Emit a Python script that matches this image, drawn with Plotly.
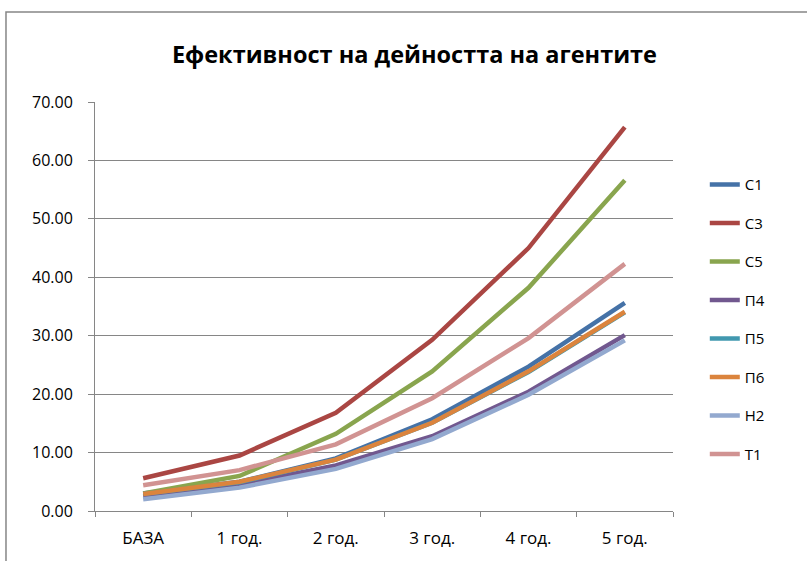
import plotly.graph_objects as go

categories = ["БАЗА", "1 год.", "2 год.", "3 год.", "4 год.", "5 год."]

series_names = ["С1", "С3", "С5", "П4", "П5", "П6", "Н2", "Т1"]
c1 = [3.0, 5.0, 9.0, 15.7, 24.7, 35.6]
c3 = [5.6, 9.5, 16.8, 29.3, 45.0, 65.7]
c5 = [3.0, 6.0, 13.2, 23.9, 38.2, 56.6]
p4 = [2.5, 4.5, 7.8, 12.8, 20.4, 30.1]
p5 = [2.9, 4.9, 8.8, 15.1, 23.8, 34.0]
p6 = [2.9, 5.0, 8.8, 15.1, 23.9, 34.1]
h2 = [2.0, 4.0, 7.2, 12.3, 19.9, 29.2]
t1 = [4.4, 7.0, 11.4, 19.3, 29.6, 42.3]
series_values = [c1, c3, c5, p4, p5, p6, h2, t1]

colors = ["#4572A7", "#AA4643", "#89A54E", "#71588F",
          "#4198AF", "#DB843D", "#93A9CF", "#D19392"]

y_ticks = [0, 10, 20, 30, 40, 50, 60, 70]
y_tick_labels = [f"{v:.2f}" for v in y_ticks]

FONT = "'Open Sans', 'Noto Sans', sans-serif"
GRID = "#868686"

fig = go.Figure()
for name, vals, col in zip(series_names, series_values, colors):
    fig.add_trace(go.Scatter(
        x=categories, y=vals, name=name, mode="lines",
        line=dict(color=col, width=4.5),
        legendgroup=name,
    ))

fig.update_layout(
    width=807, height=561,
    margin=dict(l=95, r=134, t=102, b=50),
    paper_bgcolor="white", plot_bgcolor="white",
    font=dict(family=FONT, size=15, color="#000000"),
    title=dict(text="<b>Ефективност на дейността на агентите</b>",
               x=0.5136, xanchor="center", y=0.902, yanchor="middle",
               font=dict(family=FONT, size=23.5, color="#000000")),
    showlegend=True,
    legend=dict(x=1.055, xanchor="left", y=0.838, yanchor="top",
                font=dict(family=FONT, size=15),
                tracegroupgap=16, itemwidth=30,
                bgcolor="rgba(0,0,0,0)"),
    xaxis=dict(
        type="category", range=[-0.5, 5.5], showgrid=False, showline=True,
        linecolor=GRID, linewidth=1,
        ticks="outside", ticklen=5, tickcolor=GRID, tickson="boundaries",
        tickfont=dict(family=FONT, size=17), zeroline=False,
        ticklabelstandoff=12,
    ),
    yaxis=dict(
        range=[0, 70], tickvals=y_ticks, ticktext=y_tick_labels,
        showgrid=True, gridcolor=GRID, gridwidth=1,
        showline=True, linecolor=GRID, linewidth=1,
        ticks="outside", ticklen=6, tickcolor=GRID,
        tickfont=dict(family=FONT, size=16), zeroline=False,
        ticklabelstandoff=12,
    ),
    shapes=[dict(type="rect", xref="paper", yref="paper",
                 x0=-0.154, x1=1.3, y0=-0.2, y1=1.22,
                 line=dict(color=GRID, width=1.5), fillcolor="rgba(0,0,0,0)",
                 layer="below")],
)

fig.write_html("out.html")
